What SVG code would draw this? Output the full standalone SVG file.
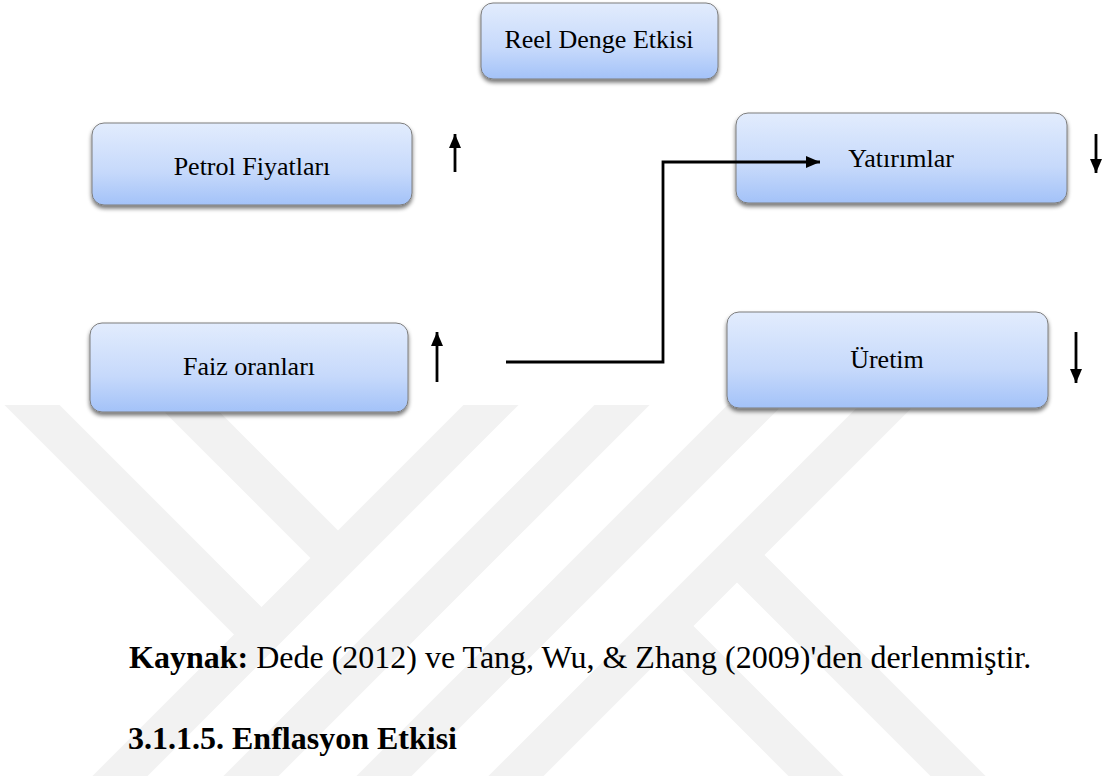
<svg xmlns="http://www.w3.org/2000/svg" width="1105" height="780" viewBox="0 0 1105 780">
<defs>
<linearGradient id="boxfill" x1="0" y1="0" x2="0" y2="1">
<stop offset="0" stop-color="#e2ecfd"/>
<stop offset="0.6" stop-color="#c6d9fb"/>
<stop offset="1" stop-color="#a3c2f8"/>
</linearGradient>
<filter id="shadow" x="-10%" y="-20%" width="120%" height="150%">
<feGaussianBlur in="SourceAlpha" stdDeviation="2"/>
<feOffset dx="0" dy="3" result="b"/>
<feComponentTransfer><feFuncA type="linear" slope="0.55"/></feComponentTransfer>
<feMerge><feMergeNode/><feMergeNode in="SourceGraphic"/></feMerge>
</filter>
<marker id="arrow" viewBox="0 0 14 12" refX="14" refY="6" markerWidth="14" markerHeight="12" markerUnits="userSpaceOnUse" orient="auto">
<path d="M0,0 L14,6 L0,12 Z" fill="#000"/>
</marker>
<clipPath id="wm"><rect x="0" y="405" width="1105" height="371"/></clipPath>
</defs>
<style>
.box{fill:url(#boxfill);stroke:#7d7d7d;stroke-width:1;filter:url(#shadow)}
.lbl{font-family:"Liberation Serif","Times New Roman",serif;font-size:26px;fill:#000;text-anchor:middle}
.body{font-family:"Liberation Serif","Times New Roman",serif;font-size:32px;fill:#000}
.band{stroke:#f2f2f2;stroke-width:39;fill:none}
.ind{stroke:#000;stroke-width:2.8;fill:none;marker-end:url(#arrow)}
.conn{stroke:#000;stroke-width:2.8;fill:none}
</style>
<rect width="1105" height="780" fill="#fff"/>
<g id="watermark" clip-path="url(#wm)">
<line class="band" x1="12" y1="385" x2="261.5" y2="634.5"/>
<line class="band" x1="165" y1="385" x2="338" y2="558"/>
<line class="band" x1="511" y1="385" x2="96" y2="800"/>
<line class="band" x1="642" y1="385" x2="227" y2="800"/>
<line class="band" x1="775" y1="385" x2="360" y2="800"/>
<line class="band" x1="907" y1="385" x2="492" y2="800"/>
<line class="band" x1="737" y1="555" x2="982" y2="800"/>
<line class="band" x1="666" y1="626" x2="840" y2="800"/>
</g>
<g id="n-reel"><rect class="box" x="481" y="3" width="237" height="76" rx="12"/><text class="lbl" x="599" y="48">Reel Denge Etkisi</text></g>
<g id="n-petrol"><rect class="box" x="92" y="123" width="320" height="82" rx="12"/><text class="lbl" x="252" y="175">Petrol Fiyatları</text></g>
<g id="n-yatirim"><rect class="box" x="736" y="113" width="331" height="90" rx="12"/><text class="lbl" x="901" y="167">Yatırımlar</text></g>
<g id="n-faiz"><rect class="box" x="90" y="323" width="318" height="89" rx="12"/><text class="lbl" x="249" y="375">Faiz oranları</text></g>
<g id="n-uretim"><rect class="box" x="727" y="312" width="321" height="96" rx="12"/><text class="lbl" x="887" y="368">Üretim</text></g>
<g id="connectors">
<line class="ind" x1="455" y1="172" x2="455" y2="134"/>
<line class="ind" x1="437" y1="382" x2="437" y2="332"/>
<line class="ind" x1="1096" y1="134" x2="1096" y2="173"/>
<line class="ind" x1="1076" y1="332" x2="1076" y2="383"/>
<polyline class="conn" points="506,362 663,362 663,162 820,162" marker-end="url(#arrow)"/>
</g>
<text class="body" x="129" y="668" font-size="32.4"><tspan font-weight="bold">Kaynak:</tspan> Dede (2012) ve Tang, Wu, &amp; Zhang (2009)'den derlenmiştir.</text>
<text class="body" x="128" y="749" font-weight="bold">3.1.1.5. Enflasyon Etkisi</text>
</svg>
